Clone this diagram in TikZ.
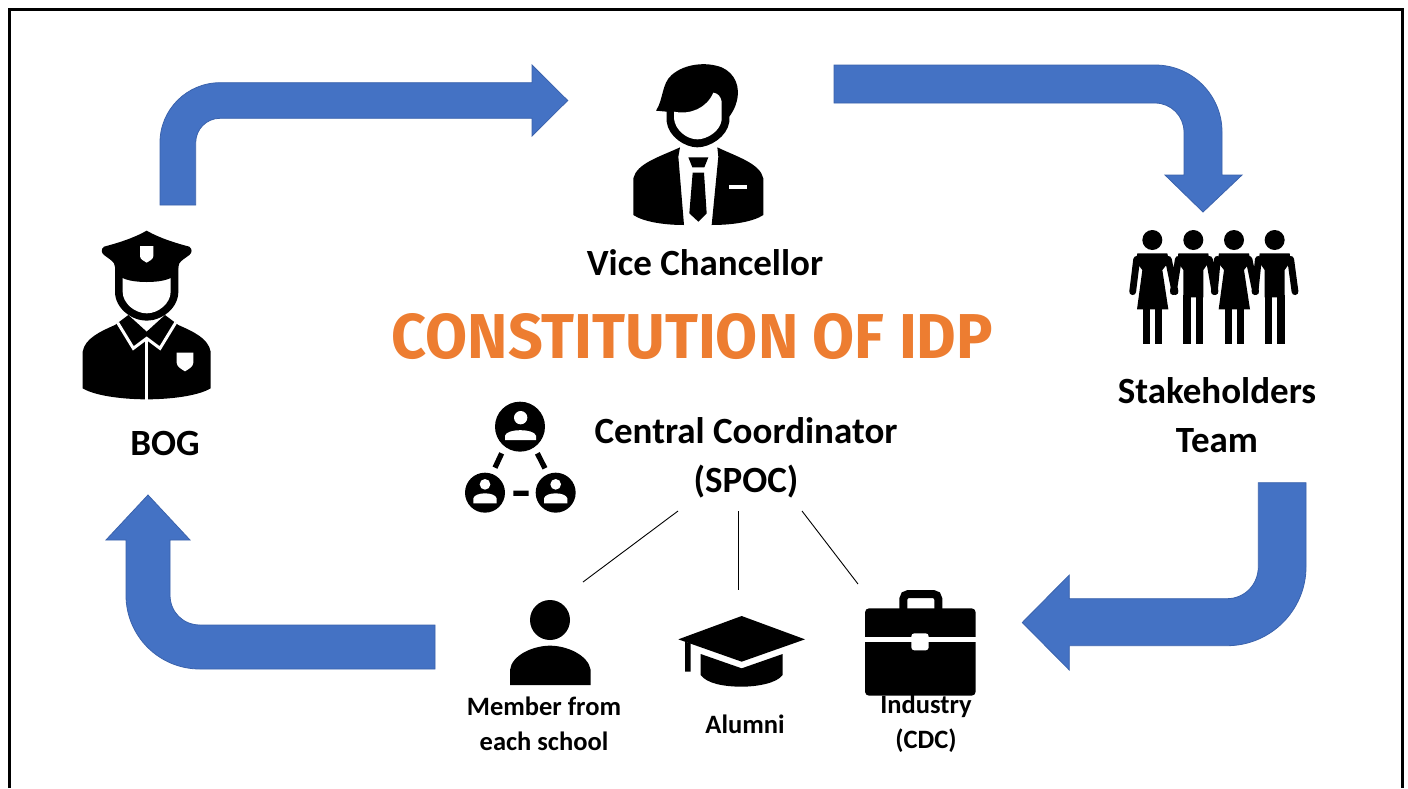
\documentclass[tikz,border=0pt]{standalone}
\usepackage{fontspec}
\usepackage{graphicx}
\setmainfont{Carlito}
\newfontfamily\titlefont{Fira Sans}
\definecolor{arrowblue}{HTML}{4472C4}
\definecolor{arrowedge}{HTML}{3A62AC}
\definecolor{titleorange}{HTML}{ED7D31}
\tikzset{
  bigarrow/.style={fill=arrowblue,draw=arrowedge,line width=0.8pt,line join=miter},
  ink/.style={fill=black,draw=none},
  paper/.style={fill=white,draw=none},
  label/.style={font=\fontsize{37}{49}\selectfont\bfseries,align=center,inner sep=0pt,text=black},
  smalllabel/.style={font=\fontsize{26.5}{35}\selectfont\bfseries,align=center,inner sep=0pt,text=black},
  link/.style={draw=black,line width=0.9pt},
  zoomed/.style={shift={#1},scale=0.33333}
}
\begin{document}
\begin{tikzpicture}[x=1pt,y=-1pt]
\useasboundingbox (0,0) rectangle (1408,788);
\fill[white] (0,0) rectangle (1408,788);
% frame (open at the bottom)
\draw[line width=3pt,line join=miter] (9.5,788) -- (9.5,9) -- (1402.5,9) -- (1402.5,788);

% arrows
\path[bigarrow] (160,205) -- (160,142.7) .. controls (160,109.6) and (186.9,82.7) .. (220,82.7)
  -- (532,82.7) -- (532,65) -- (567.7,100.5) -- (532,136) -- (532,118.3) -- (220,118.3)
  .. controls (206.5,118.3) and (195.7,129.2) .. (195.7,142.7) -- (195.7,205) -- cycle;
\path[bigarrow] (834,65) -- (1155,65) .. controls (1192,65) and (1222,95) .. (1222,132)
  -- (1222,175) -- (1242,175) -- (1203,212) -- (1165,175) -- (1184,175) -- (1184,132)
  .. controls (1184,116) and (1171,103) .. (1155,103) -- (834,103) -- cycle;
\path[bigarrow] (1258.3,482.7) -- (1306,482.7) -- (1306,566.7)
  .. controls (1306,610.3) and (1270.6,645.7) .. (1227,645.7)
  -- (1069.3,645.7) -- (1069.3,670) -- (1022.3,622.5) -- (1069.3,575) -- (1069.3,598.7) -- (1227,598.7)
  .. controls (1244.4,598.7) and (1258.3,584.8) .. (1258.3,566.7) -- cycle;
\path[bigarrow] (435,625) -- (435,669) -- (200,669) .. controls (159,669) and (126,636) .. (126,595)
  -- (126,540) -- (106,540) -- (148,495) -- (190,540) -- (170,540) -- (170,595)
  .. controls (170,612) and (183,625) .. (200,625) -- cycle;

% officer icon
\begin{scope}[zoomed={(50,210)}]
  \path[ink] (98,425) .. controls (105,385) and (150,365) .. (195,345) -- (235,315) -- (290,365) -- (345,315) -- (385,345)
    .. controls (430,365) and (475,385) .. (482,425) -- (482,535)
    .. controls (440,560) and (350,568) .. (290,568) .. controls (230,568) and (140,560) .. (98,535) -- cycle;
  \draw[white,line width=3pt,line join=miter] (203,338) -- (250,415) -- (290,385) -- (330,415) -- (377,338);
  \draw[white,line width=3pt] (290,385) -- (290,570);
  \path[paper] (380,428) -- (430,428) -- (430,458) .. controls (430,470) and (415,478) .. (405,484) .. controls (395,478) and (380,470) .. (380,458) -- cycle;
  % head outline and face
  \path[ink] (195,170) -- (195,245) .. controls (195,295) and (245,332) .. (290,332) .. controls (335,332) and (385,295) .. (385,245) -- (385,170) -- cycle;
  \path[paper] (218,190) -- (362,190) -- (362,245) .. controls (362,280) and (325,310) .. (290,310) .. controls (255,310) and (218,280) .. (218,245) -- cycle;
  % cap
  \path[ink] (290,62) .. controls (330,85) and (380,100) .. (418,110) .. controls (428,118) and (426,128) .. (418,135)
    .. controls (405,145) and (395,150) .. (388,160) -- (380,190) .. controls (365,212) and (320,216) .. (290,216)
    .. controls (260,216) and (215,212) .. (200,190) -- (192,160) .. controls (185,150) and (175,145) .. (162,135)
    .. controls (154,128) and (152,118) .. (162,110) .. controls (200,100) and (250,85) .. (290,62) -- cycle;
  \path[paper] (270,108) -- (310,108) -- (310,138) .. controls (310,148) and (298,153) .. (290,158) .. controls (282,153) and (270,148) .. (270,138) -- cycle;
\end{scope}

% executive icon
\begin{scope}[zoomed={(610,50)}]
  \path[ink] (70,385) .. controls (80,340) and (150,320) .. (210,292) -- (205,320) -- (222,525)
    .. controls (160,525) and (100,515) .. (70,495) -- cycle;
  \path[ink] (322,292) .. controls (380,320) and (450,340) .. (460,385) -- (460,495)
    .. controls (430,515) and (370,525) .. (305,525) -- (325,320) -- cycle;
  \path[ink] (235,322) -- (295,322) -- (283,352) -- (247,352) -- cycle;
  \path[ink] (248,368) -- (282,368) -- (290,490) -- (265,515) -- (238,490) -- cycle;
  \path[paper] (356,405) rectangle (412,418);
  % hair and head outline
  \path[ink] (138,182) .. controls (160,150) and (155,100) .. (185,75) .. controls (225,40) and (290,35) .. (335,52)
    .. controls (375,70) and (392,110) .. (380,155) .. controls (375,175) and (365,190) .. (358,200)
    -- (358,215) .. controls (352,260) and (300,292) .. (262,292) .. controls (225,292) and (175,260) .. (170,215) -- (170,185) -- cycle;
  \path[paper] (192,185) .. controls (240,195) and (290,175) .. (310,128) .. controls (325,130) and (332,140) .. (335,155)
    -- (335,210) .. controls (330,245) and (290,268) .. (262,268) .. controls (230,268) and (195,240) .. (192,205) -- cycle;
\end{scope}

% group icon
\begin{scope}[zoomed={(1120,220)}]
  \foreach \c in {97,220,342,464} \fill[black] (\c,60) circle (30);
  \draw[black,line width=6.8pt,line cap=round] (50,118) -- (38,215) (145,118) -- (165,215)
    (175,118) -- (160,215) (268,118) -- (285,215)
    (292,118) -- (283,215) (387,118) -- (407,215)
    (415,118) -- (405,215) (512,118) -- (525,215);
  \foreach \c in {97,342} {
    \path[ink] ([xshift=-15pt]\c,100) -- ++(0,0) -- cycle;
    \begin{scope}[shift={(\c,0)}]
      \path[ink] (-45,100) -- (45,100) -- (50,125) -- (30,150) -- (48,268) -- (-46,268) -- (-30,150) -- (-50,125) -- cycle;
      \path[ink] (-28,268) rectangle (-7,372);
      \path[ink] (8,268) rectangle (30,372);
    \end{scope}
  }
  \foreach \c in {220,464} {
    \begin{scope}[shift={(\c,0)}]
      \path[ink] (-45,100) -- (45,100) -- (48,125) -- (30,150) -- (30,232) -- (-30,232) -- (-30,150) -- (-48,125) -- cycle;
      \path[ink] (-30,225) rectangle (-8,372);
      \path[ink] (8,225) rectangle (30,372);
    \end{scope}
  }
\end{scope}

% coordinator network icon
\begin{scope}[zoomed={(450,395)}]
  \fill[black] (210,95) circle (75);
  \fill[white] (212,68) circle (20);
  \path[paper] (165,135) -- (165,122) .. controls (170,100) and (252,100) .. (258,122) -- (258,135) -- cycle;
  \foreach \c in {105,317} {
    \fill[black] (\c,293) circle (60);
    \fill[white] (\c,268) circle (16);
    \path[paper] ([xshift=0pt]\c-35,325) -- (\c-35,310) .. controls (\c-30,290) and (\c+30,290) .. (\c+35,310) -- (\c+35,325) -- cycle;
  }
  \draw[black,line width=5.3pt] (155,175) -- (135,218) (262,175) -- (285,220) (190,295) -- (236,295);
\end{scope}

% member icon, mortarboard, briefcase
\begin{scope}[zoomed={(490,580)}]
  \fill[black] (180,120) circle (60);
  \path[ink] (60,315) -- (60,270) .. controls (65,225) and (130,197) .. (180,197)
    .. controls (230,197) and (295,225) .. (302,270) -- (302,315) -- cycle;
  \path[ink] (755,108) -- (945,178) -- (755,245) -- (565,178) -- cycle;
  \path[ink] (585,185) -- (602,190) -- (602,275) -- (585,275) -- cycle;
  \path[ink] (632,222) -- (755,265) -- (878,222) -- (878,285)
    .. controls (860,310) and (800,320) .. (755,320) .. controls (700,320) and (650,310) .. (632,285) -- cycle;
  \draw[black,line width=8pt,rounded corners=5pt] (1240,95) -- (1240,42) -- (1345,42) -- (1345,95);
  \path[ink,rounded corners=4pt] (1125,85) rectangle (1457,347);
  \draw[white,line width=5pt] (1120,177) -- (1460,177);
  \path[paper,rounded corners=3pt] (1264,160) rectangle (1316,211);
\end{scope}

% text
\node[label] (vc) at (705,263) {Vice Chancellor};
\node[inner sep=0pt,text=titleorange] (title) at (692.5,337) {\resizebox{601pt}{45pt}{\titlefont\bfseries CONSTITUTION OF IDP}};
\node[label] (bog) at (165,443) {BOG};
\node[label] (team) at (1217,415) {Stakeholders\\Team};
\node[label] (cc) at (746,458) {Central Coordinator\\(SPOC)};
\node[smalllabel] (member) at (544,723.5) {Member from\\each school};
\node[smalllabel] (alumni) at (745,724) {Alumni};
\node[smalllabel] (industry) at (926,723.5) {Industry\\(CDC)};

% connectors
\coordinate (ccleft) at (678,511);
\coordinate (ccmid) at (738,511);
\coordinate (ccright) at (802,511);
\coordinate (memtop) at (583,582);
\coordinate (alutop) at (738,590);
\coordinate (indtop) at (858,584);
\draw[link] (ccleft) -- (memtop);
\draw[link] (ccmid) -- (alutop);
\draw[link] (ccright) -- (indtop);
\end{tikzpicture}
\end{document}
